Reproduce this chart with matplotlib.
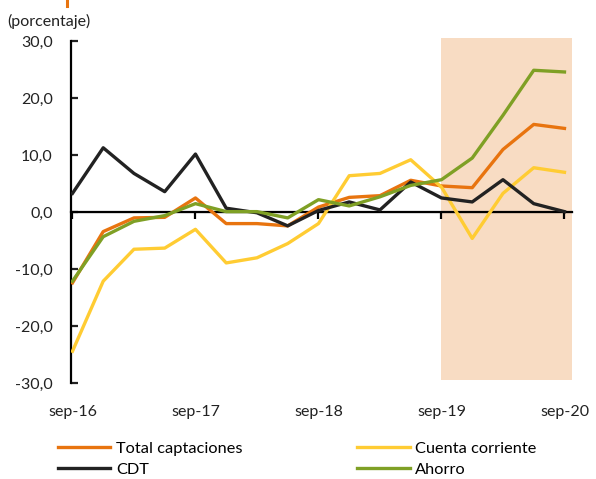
import numpy as np
import matplotlib.pyplot as plt
from matplotlib.lines import Line2D

plt.rcParams['font.family'] = ['Lato', 'DejaVu Sans']

# trimestral, sep-16 .. sep-20
periodos = ['sep-16', 'dic-16', 'mar-17', 'jun-17', 'sep-17', 'dic-17', 'mar-18', 'jun-18',
            'sep-18', 'dic-18', 'mar-19', 'jun-19', 'sep-19', 'dic-19', 'mar-20', 'jun-20', 'sep-20']
total = [-12.4, -3.4, -1.0, -0.9, 2.5, -2.0, -2.0, -2.4, 0.9, 2.6, 2.9, 5.6, 4.6, 4.3, 11.0, 15.4, 14.7]
cuenta = [-24.4, -12.1, -6.5, -6.3, -3.0, -8.9, -8.0, -5.5, -2.0, 6.4, 6.8, 9.2, 4.4, -4.6, 3.3, 7.8, 7.0]
cdt = [3.3, 11.3, 6.8, 3.6, 10.2, 0.7, -0.1, -2.4, 0.3, 1.8, 0.4, 5.3, 2.5, 1.8, 5.7, 1.5, 0.1]
ahorro = [-12.1, -4.3, -1.6, -0.6, 1.5, 0.1, 0.1, -1.0, 2.2, 1.1, 2.7, 4.7, 5.7, 9.5, 17.0, 24.9, 24.6]
tick_labels = ['sep-16', 'sep-17', 'sep-18', 'sep-19', 'sep-20']
yticks = [-30, -20, -10, 0, 10, 20, 30]

x = np.arange(len(periodos))

fig = plt.figure(figsize=(5.96, 4.79), dpi=100)
ax = fig.add_axes([0.119, 0.200, 0.841, 0.714])

# zona sombreada
ax.fill_between([12, 16.25], -29.5, 30.6, color='#F8DCC3', lw=0, clip_on=False, zorder=0)

lw = 2.4
l1, = ax.plot(x, total, color='#E8740F', lw=lw, label='Total captaciones', zorder=3)
l2, = ax.plot(x, cuenta, color='#FFCC33', lw=lw, label='Cuenta corriente', zorder=3)
l3, = ax.plot(x, cdt, color='#222222', lw=lw, label='CDT', zorder=3)
l4, = ax.plot(x, ahorro, color='#7FA025', lw=lw, label='Ahorro', zorder=3)

ax.set_xlim(-0.05, 16.25)
ax.set_ylim(-30, 30)

for s in ['top', 'right', 'bottom']:
    ax.spines[s].set_visible(False)
ax.spines['left'].set_linewidth(1.6)
ax.set_yticks(yticks)
ax.set_yticklabels([f'{v:.1f}'.replace('.', ',') for v in yticks])
ax.tick_params(axis='y', direction='in', length=5, width=1.6, pad=13, labelsize=11.5, colors='#222222')

ax.set_xticks([0, 4, 8, 12, 16])
ax.set_xticklabels(tick_labels)
ax.tick_params(axis='x', length=0, pad=16, labelsize=11.5, colors='#222222')

# eje en cero
sec = ax.secondary_xaxis(0.5)
sec.spines['bottom'].set_linewidth(1.6)
sec.set_xticks([0, 4, 8, 12, 16])
sec.set_xticklabels([])
sec.tick_params(direction='in', length=5, width=1.6)
ax.plot([-0.05, 16.25], [0, 0], color='black', lw=1.6, zorder=2, clip_on=False)

fig.text(0.013, 0.955, '(porcentaje)', fontsize=11.5, color='#222222', ha='left', va='center')
fig.add_artist(Line2D([0.113, 0.113], [0.988, 1.0], color='#E8740F', lw=2.2))

fig.legend(handles=[l1, l3, l2, l4], ncol=2, loc='upper left', bbox_to_anchor=(0.097, 0.078),
           frameon=False, fontsize=11.8, handlelength=3.2, handletextpad=0.35,
           columnspacing=7.0, labelspacing=0.38, borderaxespad=0, borderpad=0)

fig.savefig('out.png', dpi=100)
